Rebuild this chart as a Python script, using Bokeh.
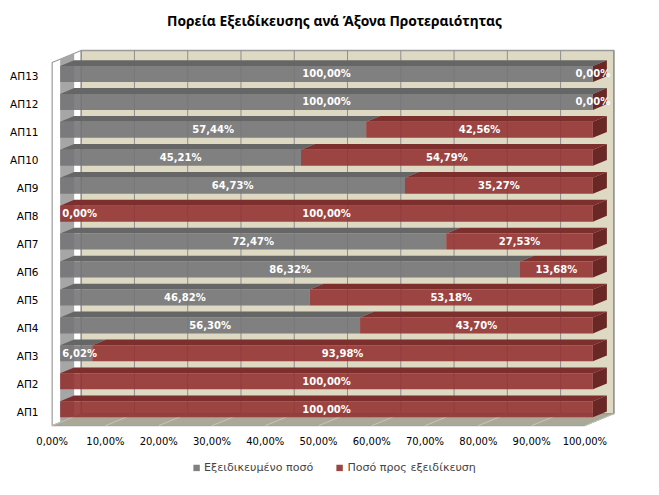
from bokeh.plotting import figure
from bokeh.layouts import column
from bokeh.models import ColumnDataSource, FixedTicker, Legend, LegendItem
from bokeh.core.properties import value
from bokeh.embed import file_html
from bokeh.resources import INLINE

# ---------------- data ----------------
categories = ["ΑΠ1", "ΑΠ2", "ΑΠ3", "ΑΠ4", "ΑΠ5", "ΑΠ6", "ΑΠ7",
              "ΑΠ8", "ΑΠ9", "ΑΠ10", "ΑΠ11", "ΑΠ12", "ΑΠ13"]
specified = [None, None, 6.02, 56.30, 46.82, 86.32, 72.47,
             0.00, 64.73, 45.21, 57.44, 100.00, 100.00]
to_specify = [100.00, 100.00, 93.98, 43.70, 53.18, 13.68, 27.53,
              100.00, 35.27, 54.79, 42.56, 0.00, 0.00]
x_ticks = [0, 10, 20, 30, 40, 50, 60, 70, 80, 90, 100]
x_tick_labels = ["0,00%", "10,00%", "20,00%", "30,00%", "40,00%", "50,00%",
                 "60,00%", "70,00%", "80,00%", "90,00%", "100,00%"]
series_names = ["Εξειδικευμένο ποσό", "Ποσό προς εξειδίκευση"]
title_text = "Πορεία Εξειδίκευσης ανά Άξονα Προτεραιότητας"

# ---------------- style / 3D geometry ----------------
PX_X = 570 / 107.0      # pixels per % unit
PX_Y = 380 / 13.6       # pixels per category unit
BX, BY = 8 / PX_X, 2.5 / PX_Y        # bar front plane offset
DX, DY = 14 / PX_X, 5.8 / PX_Y       # bar depth
WX, WY = 29 / PX_X, 12 / PX_Y        # back wall offset
BH = 16 / PX_Y                       # bar front height

WALL = "#DDD9C3"
FLOOR = "#AAA896"
GRID = "#8E8E8E"
GREY_F, GREY_T = "#767679", "#666666"
RED_F, RED_T, RED_S = "#943333", "#7C2F2C", "#692826"
LEG_GREY, LEG_RED = "#808080", "#9B4441"
FRONT_ALPHA = 0.9

FONT = "DejaVu Sans"

# ---------------- title (own strip) ----------------
tf = figure(width=659, height=40, x_range=(0, 1), y_range=(0, 40),
            output_backend="svg", toolbar_location=None,
            x_axis_location=None, y_axis_location=None, min_border=0)
tf.outline_line_color = None
tf.grid.visible = False
tf.text(x=[0.5], y=[20], text=[title_text], text_align="center",
        text_baseline="middle", text_color="#000000",
        text_font=value("Noto Sans"), text_font_size="13.8px",
        text_font_style="bold")

# ---------------- main plot ----------------
p = figure(width=659, height=415, x_range=(-0.5, 106.5), y_range=(0.4, 14.0),
           output_backend="svg", toolbar_location=None,
           min_border_left=49, min_border_right=40,
           min_border_top=8, min_border_bottom=27)
p.outline_line_color = None
p.grid.visible = False
p.background_fill_color = "white"
p.border_fill_color = "white"

n = len(categories)
y_lo, y_hi = 0.5, n + 0.5

# back wall
p.quad(left=[WX], right=[100 + WX], bottom=[y_lo + WY], top=[y_hi + WY],
       fill_color=WALL, line_color="#9A9A9A", line_width=1.5)
# left side wall
p.patch(x=[0, WX, WX, 0], y=[y_lo, y_lo + WY, y_hi + WY, y_hi],
        fill_color="white", line_color="#9A9A9A", line_width=1.2)
# shading strip on side wall
slope = WY / WX
p.patch(x=[BX, BX + DX, BX + DX, BX],
        y=[y_lo + BX * slope, y_lo + (BX + DX) * slope,
           y_hi + (BX + DX) * slope, y_hi + BX * slope],
        fill_color="#A6A6A6", line_color=None)
# floor
p.patch(x=[0, 100, 100 + WX, WX], y=[y_lo, y_lo, y_lo + WY, y_lo + WY],
        fill_color=FLOOR, line_color="#9A9A9A", line_width=1)
# gridlines on back wall and floor
p.segment(x0=[t + WX for t in x_ticks], y0=[y_lo + WY] * len(x_ticks),
          x1=[t + WX for t in x_ticks], y1=[y_hi + WY] * len(x_ticks),
          line_color=GRID, line_width=1)
p.segment(x0=x_ticks, y0=[y_lo] * len(x_ticks),
          x1=[t + WX for t in x_ticks], y1=[y_lo + WY] * len(x_ticks),
          line_color="#C8C6B8", line_width=1)

# ---------------- bars ----------------
g_vals = [v if v is not None else 0.0 for v in specified]
yc = [i + 1 + BY for i in range(n)]
g_left = [BX] * n
g_right = [BX + g for g in g_vals]
r_right = [BX + g + r for g, r in zip(g_vals, to_specify)]
bot = [y - BH / 2 for y in yc]
top = [y + BH / 2 for y in yc]

def top_face(x0s, x1s):
    xs, ys = [], []
    for a, b, t in zip(x0s, x1s, top):
        xs.append([a, b, b + DX, a + DX])
        ys.append([t, t, t + DY, t + DY])
    return xs, ys

gx, gy = top_face(g_left, g_right)
rx, ry = top_face(g_right, r_right)
p.patches(xs=gx, ys=gy, fill_color=GREY_T, line_color=None)
p.patches(xs=rx, ys=ry, fill_color=RED_T, line_color=None)
sx = [[e, e + DX, e + DX, e] for e in r_right]
sy = [[b, b + DY, t + DY, t] for b, t in zip(bot, top)]
p.patches(xs=sx, ys=sy, fill_color=RED_S, line_color=None)

grey_src = ColumnDataSource(dict(left=g_left, right=g_right, bottom=bot, top=top))
red_src = ColumnDataSource(dict(left=g_right, right=r_right, bottom=bot, top=top))
p.quad(left="left", right="right", bottom="bottom", top="top",
       source=grey_src, fill_color=GREY_F, fill_alpha=FRONT_ALPHA, line_color=None)
p.quad(left="left", right="right", bottom="bottom", top="top",
       source=red_src, fill_color=RED_F, fill_alpha=FRONT_ALPHA, line_color=None)

# ---------------- data labels ----------------
def fmt(v):
    return f"{v:.2f}".replace(".", ",") + "%"

lx, ly, lt, la = [], [], [], []
for i in range(n):
    g = specified[i]
    if g is not None:
        if g < 10:
            lx.append(BX + 0.4); la.append("left")
        else:
            lx.append(BX + g / 2); la.append("center")
        ly.append(yc[i]); lt.append(fmt(g))
    r = to_specify[i]
    lx.append(g_right[i] + r / 2); la.append("center")
    ly.append(yc[i]); lt.append(fmt(r))
lab_src = ColumnDataSource(dict(x=lx, y=ly, text=lt, align=la))
p.text(x="x", y="y", text="text", source=lab_src, text_align="align",
       text_baseline="middle", text_color="white", text_font=value(FONT),
       text_font_size="10px", text_font_style="bold")

# ---------------- axes ----------------
p.xaxis.ticker = FixedTicker(ticks=x_ticks)
p.xaxis.major_label_overrides = {t: s for t, s in zip(x_ticks, x_tick_labels)}
p.yaxis.ticker = FixedTicker(ticks=list(range(1, n + 1)))
p.yaxis.major_label_overrides = {i + 1: c for i, c in enumerate(categories)}
for ax in (p.xaxis, p.yaxis):
    ax.axis_line_color = None
    ax.major_tick_line_color = None
    ax.minor_tick_line_color = None
    ax.major_tick_out = 0
    ax.major_tick_in = 0
    ax.minor_tick_out = 0
    ax.major_label_text_font = FONT
    ax.major_label_text_color = "#000000"
p.xaxis.major_label_text_font_size = "10px"
p.yaxis.major_label_text_font_size = "10.5px"
p.xaxis.major_label_standoff = 7
p.yaxis.major_label_standoff = 11

# ---------------- legend (own strip) ----------------
lf = figure(width=659, height=24, x_range=(0, 1), y_range=(0, 1),
            output_backend="svg", toolbar_location=None,
            x_axis_location=None, y_axis_location=None, min_border=0)
lf.outline_line_color = None
lf.grid.visible = False
# legend swatches: one off-range square per series (not visible in the frame)
lg = lf.quad(left=[5], right=[6], bottom=[5], top=[6], fill_color=LEG_GREY, line_color=None)
lr = lf.quad(left=[5], right=[6], bottom=[5], top=[6], fill_color=LEG_RED, line_color=None)
legend = Legend(items=[LegendItem(label=series_names[0], renderers=[lg]),
                       LegendItem(label=series_names[1], renderers=[lr])],
                orientation="horizontal", location="center",
                glyph_width=8, glyph_height=8, label_standoff=4, spacing=22,
                label_text_font=FONT, label_text_font_size="11.1px",
                label_height=12, padding=2, margin=0,
                border_line_color=None, background_fill_alpha=0)
lf.add_layout(legend)

root = column(tf, p, lf, spacing=0)
open("out.html", "w").write(file_html(root, INLINE))
